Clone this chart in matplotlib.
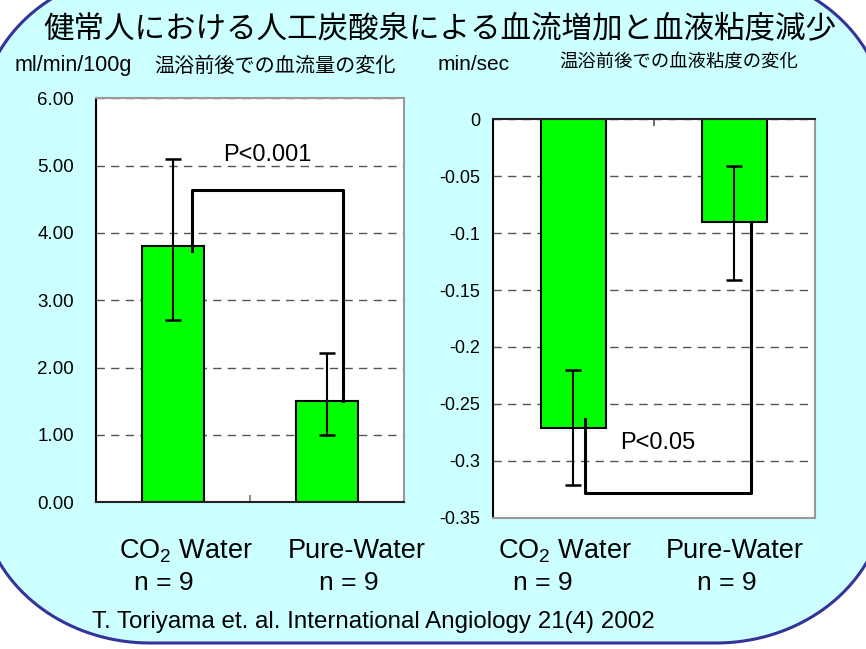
import numpy as np
import matplotlib
matplotlib.use("Agg")
import matplotlib.pyplot as plt
from matplotlib import font_manager
from matplotlib.patches import PathPatch
from matplotlib.path import Path

# ---------------- data ----------------
categories = ["CO$_2$ Water", "Pure-Water"]
n_values = [9, 9]

flow_means = [3.80, 1.50]
flow_err_low = [1.09, 0.50]
flow_err_high = [1.30, 0.71]
flow_ticks = [0, 1, 2, 3, 4, 5, 6]
flow_ticklabels = ["0.00", "1.00", "2.00", "3.00", "4.00", "5.00", "6.00"]
flow_bracket_y = [3.73, 4.64, 4.64, 1.50]
flow_p_text = "P<0.001"

visc_means = [-0.271, -0.090]
visc_err_low = [0.050, 0.051]
visc_err_high = [0.051, 0.049]
visc_ticks = [0, -0.05, -0.1, -0.15, -0.2, -0.25, -0.3, -0.35]
visc_ticklabels = ["0", "-0.05", "-0.1", "-0.15", "-0.2", "-0.25", "-0.3", "-0.35"]
visc_bracket_y = [-0.263, -0.328, -0.328, -0.090]
visc_p_text = "P<0.05"

title = "健常人における人工炭酸泉による血流増加と血液粘度減少"
left_unit = "ml/min/100g"
left_sub = "温浴前後での血流量の変化"
right_unit = "min/sec"
right_sub = "温浴前後での血液粘度の変化"
citation = "T. Toriyama et. al. International Angiology 21(4) 2002"

# ---------------- fonts ----------------
names = {f.name for f in font_manager.fontManager.ttflist}
LAT = "Liberation Sans" if "Liberation Sans" in names else "DejaVu Sans"
NAR = "Liberation Sans Narrow" if "Liberation Sans Narrow" in names else (
    "DejaVu Sans Condensed" if "DejaVu Sans Condensed" in names else LAT)
CJK = "Noto Sans CJK JP"
plt.rcParams["font.family"] = [LAT, CJK, "DejaVu Sans"]
plt.rcParams["mathtext.fontset"] = "custom"
plt.rcParams["mathtext.rm"] = LAT
plt.rcParams["mathtext.it"] = LAT
plt.rcParams["axes.unicode_minus"] = False

W, H = 866, 649
fig = plt.figure(figsize=(W / 100, H / 100), dpi=100, facecolor="white")


def px(x, y):
    return x / W, 1 - y / H


# ---------------- rounded background ----------------
L, R, T, B, rx, ry = -20, 886, -29, 643, 170, 150
def arc(cx, cy, a0, a1):
    t = np.linspace(np.radians(a0), np.radians(a1), 40)
    return np.column_stack([cx + rx * np.cos(t), cy + ry * np.sin(t)])
pts = np.vstack([
    arc(L + rx, T + ry, 180, 270),
    arc(R - rx, T + ry, 270, 360),
    arc(R - rx, B - ry, 0, 90),
    arc(L + rx, B - ry, 90, 180),
])
pts = np.vstack([pts, pts[:1]])
figpts = np.column_stack([pts[:, 0] / W, 1 - pts[:, 1] / H])
patch = PathPatch(Path(figpts), facecolor="#CCFFFF", edgecolor="#333399",
                  lw=2.2, transform=fig.transFigure, zorder=-5)
fig.patches.append(patch)

# ---------------- axes ----------------
ax1 = fig.add_axes([96 / W, 1 - 502.3 / H, 308 / W, 404 / H], zorder=2)
ax2 = fig.add_axes([492.7 / W, 1 - 517.7 / H, 322.3 / W, 398.4 / H], zorder=2)

xpos = np.arange(len(categories))
green = "#00FF00"
grid_style = dict(linestyle=(0, (6, 4.5)), color="#555555", lw=1.0)

for ax, means, lo, hi, ticks, tlabels, ylim, tsize in [
    (ax1, flow_means, flow_err_low, flow_err_high, flow_ticks, flow_ticklabels, (0, 6), 13.5),
    (ax2, visc_means, visc_err_low, visc_err_high, visc_ticks, visc_ticklabels, (-0.35, 0), 13),
]:
    ax.set_facecolor("white")
    ax.set_xlim(-0.5, 1.5)
    ax.set_ylim(*ylim)
    ax.bar(xpos, means, width=0.4, color=green, edgecolor="black", lw=1.5, zorder=2)
    ax.errorbar(xpos, means, yerr=[lo, hi], fmt="none", ecolor="black",
                elinewidth=1.5, capsize=5.5, capthick=1.8, zorder=3)
    ax.set_yticks(ticks)
    ax.set_yticklabels(tlabels, fontfamily=NAR, fontsize=tsize)
    ax.yaxis.grid(True, **grid_style)
    ax.set_axisbelow(True)
    for s in ax.spines.values():
        s.set_linewidth(1.5)

# left chart styling
ax1.tick_params(axis="y", length=0, pad=16)
ax1.set_xticks([0.5])
ax1.tick_params(axis="x", direction="in", length=5, width=1.2, color="#777777",
                labelbottom=False)
ax1.spines["top"].set_color("#999999")
ax1.spines["right"].set_color("#999999")
ax1.spines["left"].set_color("black")
ax1.spines["bottom"].set_color("#222222")

# right chart styling
ax2.tick_params(axis="y", length=0, pad=9)
ax2.xaxis.tick_top()
ax2.set_xticks([0, 0.5, 1])
ax2.tick_params(axis="x", direction="in", length=5, width=1.2, color="#555555",
                labeltop=False, labelbottom=False)
ax2.spines["top"].set_color("#222222")
ax2.spines["left"].set_color("black")
ax2.spines["right"].set_color("#999999")
ax2.spines["bottom"].set_color("#999999")

# significance brackets
ax1.plot([0.123, 0.123, 1.104, 1.104], flow_bracket_y, color="black", lw=2.2, zorder=4)
ax1.text(0.61, 5.16, flow_p_text, ha="center", va="center", fontsize=17, zorder=5)
ax2.plot([0.073, 0.073, 1.103, 1.103], visc_bracket_y, color="black", lw=2.2, zorder=4)
ax2.text(0.526, -0.284, visc_p_text, ha="center", va="center", fontsize=17, zorder=5)

# ---------------- texts ----------------
fig.text(*px(440, 29), title, ha="center", va="center", fontsize=22, family=[CJK])
fig.text(*px(15, 66), left_unit, ha="left", va="center", fontsize=15.5)
fig.text(*px(275, 66), left_sub, ha="center", va="center", fontsize=14.5, family=[CJK])
fig.text(*px(438, 65), right_unit, ha="left", va="center", fontsize=15)
fig.text(*px(679, 63), right_sub, ha="center", va="center", fontsize=13.2, family=[CJK])

cat_x = [186, 357, 565, 735]
n_x = [164, 349, 543, 727]
for i in range(4):
    fig.text(*px(cat_x[i], 551), categories[i % 2], ha="center", va="center", fontsize=19.5)
    fig.text(*px(n_x[i], 583), f"n = {n_values[i % 2]}", ha="center", va="center", fontsize=19)
fig.text(*px(373, 622), citation, ha="center", va="center", fontsize=17.4)

fig.savefig("out.png", dpi=100, facecolor="white")
